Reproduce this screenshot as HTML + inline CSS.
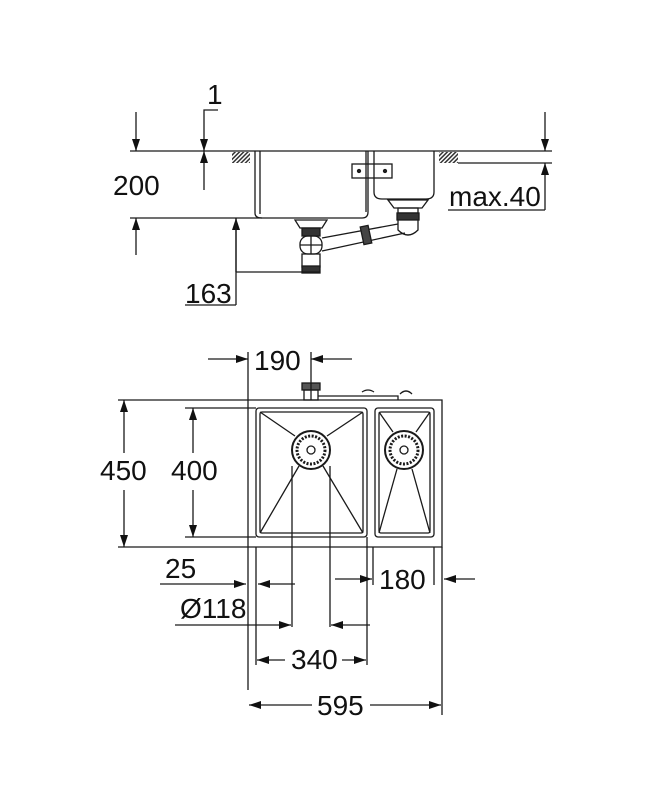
<!DOCTYPE html>
<html><head><meta charset="utf-8"><style>
html,body{margin:0;padding:0;background:#fff;}
svg{display:block;}
text{font-family:"Liberation Sans",sans-serif;font-size:28px;fill:#111;}
</style></head><body>
<svg width="668" height="800" viewBox="0 0 668 800" xmlns="http://www.w3.org/2000/svg">
<defs>
<marker id="a" viewBox="0 0 12 8" refX="12" refY="4" markerWidth="12" markerHeight="8" markerUnits="userSpaceOnUse" orient="auto"><path d="M0,0 L12,4 L0,8 Z" fill="#111"/></marker>
<pattern id="h" width="3" height="3" patternUnits="userSpaceOnUse" patternTransform="rotate(45)"><rect width="1.5" height="3" fill="#333"/></pattern>
</defs>
<g stroke="#1a1a1a" stroke-width="1.3" fill="none">
<line x1="130" y1="151" x2="552" y2="151"/>
<line x1="458" y1="163" x2="552" y2="163"/>
<rect x="232" y="152" width="18" height="11" fill="url(#h)" stroke="none"/>
<rect x="439" y="152" width="19" height="11" fill="url(#h)" stroke="none"/>
<path d="M255,151 V213 Q255,218 262,218 H362 Q368,218 368,212 V151"/>
<line x1="260" y1="151" x2="260" y2="214"/>
<line x1="366" y1="151" x2="366" y2="212"/>
<path d="M374,151 V192 Q374,199 382,199 H426 Q434,199 434,192 V151"/>
<rect x="352" y="164" width="40" height="14"/>
<circle cx="359" cy="171" r="1.5" fill="#222"/><circle cx="385" cy="171" r="1.5" fill="#222"/>
<line x1="130" y1="218" x2="262" y2="218"/>
<path d="M295,220 H327 L322,228 H300 Z"/>
<rect x="302" y="228" width="18" height="8" fill="#333"/>
<rect x="300" y="236" width="22" height="18" rx="8"/>
<line x1="311" y1="236" x2="311" y2="254"/><line x1="300" y1="245" x2="322" y2="245"/>
<rect x="302" y="254" width="18" height="13"/>
<rect x="302" y="266" width="18" height="7" fill="#333"/>
<path d="M388,200 H428 L422,208 H394 Z"/>
<rect x="398" y="208" width="20" height="5"/>
<rect x="397" y="213" width="22" height="7" fill="#333"/>
<path d="M398,220 V230 Q408,240 418,230 V220"/>
<line x1="322" y1="238" x2="398" y2="224"/>
<line x1="322" y1="251" x2="405" y2="233"/>
<rect x="362" y="226" width="8" height="18" fill="#444" transform="rotate(-12 366 235)"/>
<line x1="136" y1="112" x2="136" y2="151" marker-end="url(#a)"/>
<line x1="136" y1="255" x2="136" y2="218" marker-end="url(#a)"/>
<path d="M218,110 H204 V151" marker-end="url(#a)"/>
<line x1="204" y1="190" x2="204" y2="151" marker-end="url(#a)"/>
<line x1="545" y1="112" x2="545" y2="151" marker-end="url(#a)"/>
<line x1="545" y1="210" x2="545" y2="163" marker-end="url(#a)"/>
<line x1="448" y1="210" x2="545" y2="210"/>
<line x1="236" y1="272" x2="236" y2="218" marker-end="url(#a)"/>
<line x1="236" y1="218" x2="236" y2="305"/>
<line x1="236" y1="272" x2="320" y2="272"/>
<line x1="185" y1="305" x2="236" y2="305"/>
<path d="M118,400 H442 V547 H118"/>
<rect x="256" y="408" width="111" height="129" rx="3"/>
<rect x="260" y="412" width="103" height="121" rx="2"/>
<rect x="375" y="408" width="59" height="129" rx="3"/>
<rect x="379" y="412" width="51" height="121" rx="2"/>
<path d="M260,412 L295,436 M363,412 L327,436 M260,533 L299,466 M363,533 L323,466"/>
<path d="M379,412 L393,432 M430,412 L416,432 M379,533 L397,469 M430,533 L412,469"/>
<circle cx="311" cy="450" r="19" stroke-width="2"/>
<circle cx="311" cy="450" r="14" stroke-dasharray="2 1.5" stroke-width="3"/>
<circle cx="311" cy="450" r="4"/>
<circle cx="404" cy="450" r="19" stroke-width="2"/>
<circle cx="404" cy="450" r="14" stroke-dasharray="2 1.5" stroke-width="3"/>
<circle cx="404" cy="450" r="4"/>
<rect x="302" y="383" width="18" height="7" fill="#555"/>
<rect x="304" y="390" width="14" height="10"/>
<path d="M318,396 H398 V400 M362,392 Q368,388 374,392 M400,394 Q406,388 412,394"/>
<line x1="124" y1="453" x2="124" y2="400" marker-end="url(#a)"/>
<line x1="124" y1="490" x2="124" y2="547" marker-end="url(#a)"/>
<line x1="193" y1="453" x2="193" y2="408" marker-end="url(#a)"/>
<line x1="193" y1="490" x2="193" y2="537" marker-end="url(#a)"/>
<line x1="185" y1="408" x2="256" y2="408"/>
<line x1="185" y1="537" x2="256" y2="537"/>
<line x1="248" y1="352" x2="248" y2="690"/>
<line x1="311" y1="352" x2="311" y2="400"/>
<line x1="208" y1="359" x2="248" y2="359" marker-end="url(#a)"/>
<line x1="352" y1="359" x2="311" y2="359" marker-end="url(#a)"/>
<line x1="256" y1="547" x2="256" y2="665"/>
<line x1="292" y1="466" x2="292" y2="627"/>
<line x1="330" y1="466" x2="330" y2="627"/>
<line x1="367" y1="537" x2="367" y2="665"/>
<line x1="373" y1="547" x2="373" y2="585"/>
<line x1="434" y1="547" x2="434" y2="585"/>
<line x1="442" y1="547" x2="442" y2="715"/>
<line x1="160" y1="584" x2="246" y2="584" marker-end="url(#a)"/>
<line x1="295" y1="584" x2="258" y2="584" marker-end="url(#a)"/>
<line x1="335" y1="579" x2="372" y2="579" marker-end="url(#a)"/>
<line x1="475" y1="579" x2="444" y2="579" marker-end="url(#a)"/>
<line x1="175" y1="625" x2="291" y2="625" marker-end="url(#a)"/>
<line x1="370" y1="625" x2="331" y2="625" marker-end="url(#a)"/>
<line x1="285" y1="660" x2="257" y2="660" marker-end="url(#a)"/>
<line x1="342" y1="660" x2="366" y2="660" marker-end="url(#a)"/>
<line x1="312" y1="705" x2="249" y2="705" marker-end="url(#a)"/>
<line x1="370" y1="705" x2="441" y2="705" marker-end="url(#a)"/>
</g>
<text x="207" y="104">1</text>
<text x="113" y="195">200</text>
<text x="449" y="206">max.40</text>
<text x="185" y="303">163</text>
<text x="254" y="370">190</text>
<text x="100" y="480">450</text>
<text x="171" y="480">400</text>
<text x="165" y="578">25</text>
<text x="379" y="589">180</text>
<text x="180" y="618">Ø118</text>
<text x="291" y="669">340</text>
<text x="317" y="715">595</text>
</svg>
</body></html>
